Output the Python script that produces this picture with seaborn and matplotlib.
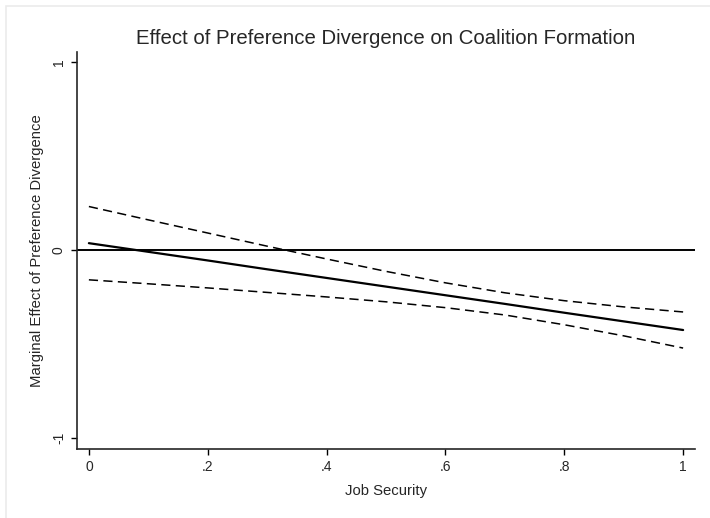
import matplotlib
matplotlib.use("Agg")
import matplotlib.pyplot as plt
import matplotlib.patches as mpatches
import seaborn as sns
import pandas as pd

# valores
job_security = [0.0, 0.1, 0.2, 0.3, 0.4, 0.5, 0.6, 0.7, 0.8, 0.9, 1.0]
marginal_effect = [0.036, -0.010, -0.056, -0.103, -0.149, -0.195, -0.241, -0.287, -0.334, -0.380, -0.426]
upper_ci = [0.231, 0.160, 0.090, 0.020, -0.048, -0.114, -0.175, -0.228, -0.270, -0.303, -0.330]
lower_ci = [-0.159, -0.180, -0.202, -0.226, -0.250, -0.276, -0.307, -0.346, -0.398, -0.457, -0.522]

x_ticks = [0, 0.2, 0.4, 0.6, 0.8, 1.0]
x_tick_labels = ["0", ".2", ".4", ".6", ".8", "1"]
y_ticks = [-1, 0, 1]
y_tick_labels = ["-1", "0", "1"]

df = pd.DataFrame({
    "job": job_security,
    "me": marginal_effect,
    "hi": upper_ci,
    "lo": lower_ci,
})

sns.set_style("ticks")
plt.rcParams["font.family"] = ["Liberation Sans", "DejaVu Sans"]

fig = plt.figure(figsize=(7.1, 5.18), dpi=100)
ax = fig.add_axes([77 / 710, 1 - 449 / 518, (695 - 77) / 710, (449 - 52) / 518])

# moldura cinza clara em volta da figura
fig.patches.append(mpatches.Rectangle((6 / 710, -0.02), 1.0, 1 - 6 / 518 + 0.02,
                                      transform=fig.transFigure, fill=False,
                                      edgecolor="#ebebeb", linewidth=1.2))

ax.axhline(0, color="black", linewidth=1.4, zorder=1)
sns.lineplot(data=df, x="job", y="hi", ax=ax, color="black", linewidth=1.1,
             linestyle=(0, (6, 3.5)))
sns.lineplot(data=df, x="job", y="lo", ax=ax, color="black", linewidth=1.1,
             linestyle=(0, (6, 3.5)))
sns.lineplot(data=df, x="job", y="me", ax=ax, color="black", linewidth=1.6)

ax.set_xlim(-0.020, 1.020)
ax.set_ylim(-1.059, 1.053)
ax.set_xticks(x_ticks)
ax.set_xticklabels(x_tick_labels)
ax.set_yticks(y_ticks)
ax.set_yticklabels(y_tick_labels, rotation=90, va="center")

for s in ["top", "right"]:
    ax.spines[s].set_visible(False)
for s in ["left", "bottom"]:
    ax.spines[s].set_linewidth(1.2)
ax.tick_params(axis="both", length=4.5, width=1.0, labelsize=10, color="black")

ax.set_xlabel("Job Security", fontsize=10.7, labelpad=7)
ax.set_ylabel("Marginal Effect of Preference Divergence", fontsize=10.7, labelpad=6)
ax.set_title("Effect of Preference Divergence on Coalition Formation", fontsize=14.7, pad=5.5)

fig.savefig("out.png", dpi=100)
